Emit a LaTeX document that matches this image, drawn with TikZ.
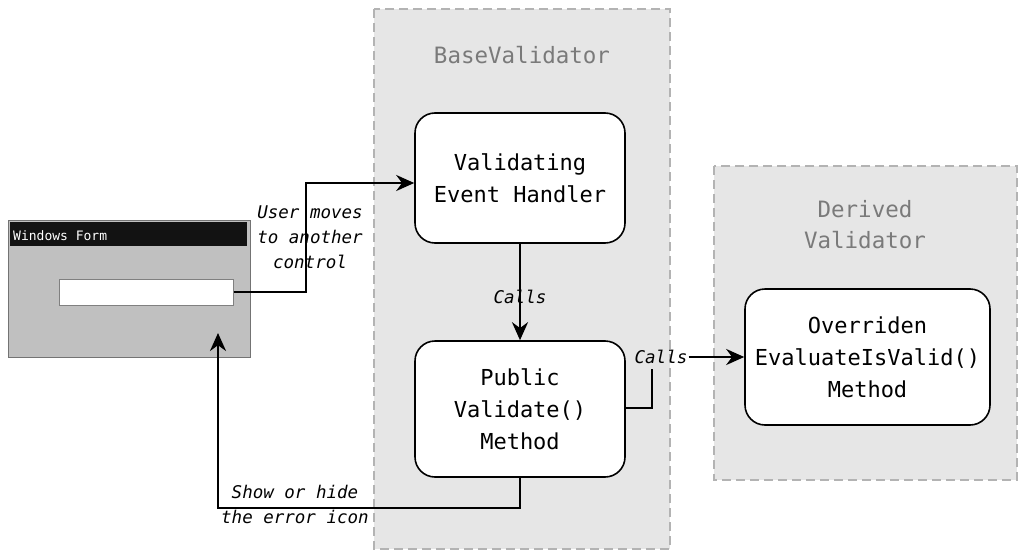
\documentclass[tikz,border=0pt]{standalone}
\usepackage{fontspec}
\setmonofont{DejaVu Sans Mono}
\usetikzlibrary{arrows.meta}
\definecolor{panelfill}{HTML}{E6E6E6}
\definecolor{paneldash}{HTML}{B3B3B3}
\definecolor{titlegray}{HTML}{7A7A7A}
\definecolor{formgray}{HTML}{C0C0C0}
\tikzset{
  panel/.style={draw=paneldash, fill=panelfill, line width=2.5pt, dash pattern=on 9pt off 5pt},
  stepbox/.style={draw=black, fill=white, line width=1.6pt, rounded corners=20pt, align=center,
    font=\ttfamily\fontsize{22}{32}\selectfont, inner sep=0pt},
  paneltitle/.style={text=titlegray, align=center, font=\ttfamily\fontsize{22.5}{31}\selectfont},
  lbl/.style={align=center, font=\ttfamily\itshape\fontsize{17.5}{25}\selectfont, inner sep=1pt},
  conn/.style={line width=2.7pt, line cap=butt},
  arr/.style={conn, -{Stealth[length=18pt,width=16pt]}}
}
\begin{document}
\begin{tikzpicture}[x=1pt,y=-1pt]
\useasboundingbox (0,0) rectangle (1019,551);
% panels
\draw[panel] (374,9) rectangle (670,549);
\draw[panel] (714,166) rectangle (1017,480);
\node[paneltitle] (basettl) at (522,55) {BaseValidator};
\node[paneltitle] (derttl) at (865,225) {Derived\\Validator};
% boxes
\node[stepbox, minimum width=210pt, minimum height=130pt] (veh) at (520,178) {Validating\\Event Handler};
\node[stepbox, minimum width=210pt, minimum height=136pt] (pub) at (520,409) {Public\\Validate()\\Method};
\node[stepbox, minimum width=245pt, minimum height=136pt] (ovr) at (867.5,357) {Overriden\\EvaluateIsValid()\\Method};
% windows form
\node[draw=black!55, fill=formgray, line width=1pt, minimum width=242pt, minimum height=137pt, inner sep=0pt] (form) at (129,288.5) {};
\node[fill=black!93, minimum width=237pt, minimum height=24pt, inner sep=0pt] (formbar) at (128.5,234) {};
\node[text=white, anchor=west, font=\ttfamily\fontsize{13}{15}\selectfont, inner sep=0pt] (formttl) at (13,236) {Windows Form};
\node[draw=black!50, fill=white, line width=1pt, minimum width=174pt, minimum height=26pt, inner sep=0pt] (field) at (146,292) {};
% labels
\node[lbl] (lbluser) at (310,237) {User moves\\to another\\control};
\node[lbl, fill=panelfill] (lblcalls1) at (520,297) {Calls};
\node[lbl] (lblcalls2) at (661,357) {Calls};
\node[lbl, anchor=north west, align=left] (lblshow) at (220,484) {\ Show or hide\\the error icon};
% connectors
\coordinate (c1) at (306,292);
\coordinate (c2) at (306,183);
\draw[arr] (field.east) -- (c1) -- (c2) -- (veh.west |- c2);
\draw[arr] (veh.south) -- (pub.north);
\coordinate (p1) at (652,408);
\coordinate (p2) at (652,369);
\draw[conn] (pub.east |- p1) -- (p1) -- (p2);
\draw[arr] (lblcalls2.east) -- (ovr.west |- lblcalls2.east);
\coordinate (s1) at (520,508);
\coordinate (s2) at (218,508);
\coordinate (s3) at (218,333);
\draw[arr] (pub.south) -- (s1) -- (s2) -- (s3);
\end{tikzpicture}
\end{document}
